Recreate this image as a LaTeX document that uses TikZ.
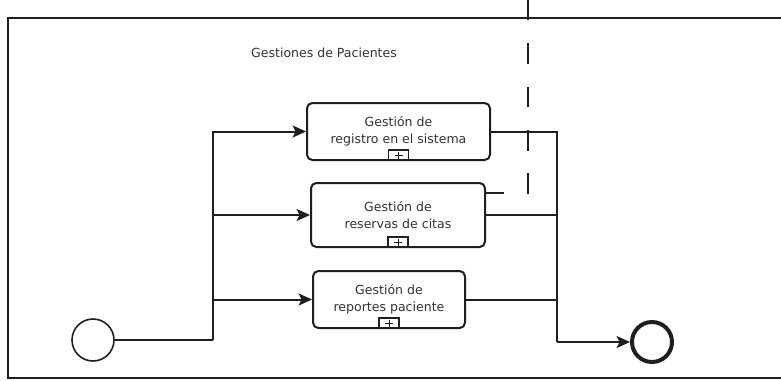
\documentclass[tikz,border=0pt]{standalone}
\usepackage{fontspec}
\setmainfont{DejaVu Sans}
\usetikzlibrary{arrows.meta}
\begin{document}
\begin{tikzpicture}[x=0.75pt,y=-0.75pt,
  ink/.style={draw=black!88},
  lane/.style={ink, line width=1.6pt},
  flow/.style={ink, line width=1.5pt},
  seqflow/.style={flow, -{Stealth[length=10pt,width=9pt,inset=2.2pt]}},
  label/.style={font=\fontsize{9.4}{13}\selectfont, text=black!80},
  task/.style={ink, line width=1.5pt, rounded corners=4pt, fill=white,
    align=center, inner sep=0pt, label},
  marker/.style={ink, line width=1.2pt, fill=white, inner sep=0pt,
    minimum width=20*0.75pt, minimum height=10*0.75pt, anchor=south},
  startev/.style={ink, circle, line width=1.2pt, inner sep=0pt,
    minimum size=42*0.75pt, fill=white},
  endev/.style={ink, circle, line width=3pt, inner sep=0pt,
    minimum size=40*0.75pt, fill=white},
]
\useasboundingbox (0,0) rectangle (781,380);

% pool outline
\draw[lane] (781,18) -- (8,18) -- (8,378) -- (781,378);

% title of the pool
\node[label] (title) at (324,53) {Gestiones de Pacientes};

% collapsed sub-processes
\node[task, minimum width=183*0.75pt, minimum height=57*0.75pt] (t1) at (398.5,131.5)
  {Gestión de\\registro en el sistema};
\node[task, minimum width=174*0.75pt, minimum height=64*0.75pt] (t2) at (398,215)
  {Gestión de\\reservas de citas};
\node[task, minimum width=152*0.75pt, minimum height=57*0.75pt] (t3) at (389,299.5)
  {Gestión de\\reportes paciente};

% sub-process markers
\foreach \t in {t1,t2,t3}{
  \node[marker] (\t m) at (\t.south) {};
  \draw[black!88, line width=0.6pt] ([xshift=-3pt]\t m.center) -- ([xshift=3pt]\t m.center);
  \draw[black!88, line width=0.6pt] ([yshift=-2.6pt]\t m.center) -- ([yshift=2.6pt]\t m.center);
}

% events
\node[startev] (start) at (93,340) {};
\node[endev] (end) at (652,342) {};

% split
\coordinate (fork) at (213,340);
\draw[flow] (start) -- (fork);
\draw[seqflow] (fork) |- (t1.west);
\draw[seqflow] (fork |- t2.west) -- (t2.west);
\draw[seqflow] (fork |- t3.west) -- (t3.west);

% join
\coordinate (join) at (557,342);
\draw[flow] (t1.east) -| (join);
\draw[flow] (t2.east) -- (t2.east -| join);
\draw[flow] (t3.east) -- (t3.east -| join);
\draw[seqflow] (join) -- (end);

% stub and dashed association
\coordinate (stub) at (504,193);
\draw[flow] (stub -| t2.east) -- (stub);
\coordinate (assoc) at (528,194);
\coordinate (assoctop) at (528,0);
\draw[ink, line width=1.5pt, dash pattern=on 15.4pt off 17.2pt] (assoc) -- (assoctop);
\end{tikzpicture}
\end{document}
